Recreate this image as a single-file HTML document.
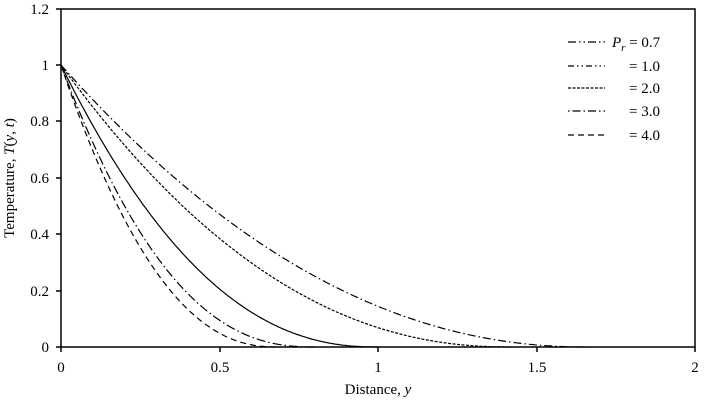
<!DOCTYPE html>
<html><head><meta charset="utf-8"><style>
body{margin:0;background:#fff}
svg{display:block;font-family:"Liberation Serif",serif;font-size:15px}
</style></head><body>
<svg id="s" width="708" height="402" viewBox="0 0 708 402">
<rect x="61" y="9" width="634" height="338" fill="none" stroke="#000" stroke-width="1.5"/>
<g stroke="#000" stroke-width="1.5">
<line x1="61" y1="347" x2="61" y2="352"/><line x1="220" y1="347" x2="220" y2="352"/><line x1="378" y1="347" x2="378" y2="352"/><line x1="537" y1="347" x2="537" y2="352"/><line x1="695" y1="347" x2="695" y2="352"/>
<line x1="56" y1="347" x2="61" y2="347"/><line x1="56" y1="291" x2="61" y2="291"/><line x1="56" y1="234" x2="61" y2="234"/><line x1="56" y1="178" x2="61" y2="178"/><line x1="56" y1="121" x2="61" y2="121"/><line x1="56" y1="65" x2="61" y2="65"/><line x1="56" y1="9" x2="61" y2="9"/>
</g>
<g text-anchor="end">
<text x="49" y="352">0</text><text x="49" y="296">0.2</text><text x="49" y="239">0.4</text><text x="49" y="183">0.6</text><text x="49" y="126">0.8</text><text x="49" y="70">1</text><text x="49" y="14">1.2</text>
</g>
<g text-anchor="middle">
<text x="61" y="372">0</text><text x="220" y="372">0.5</text><text x="378" y="372">1</text><text x="537" y="372">1.5</text><text x="695" y="372">2</text>
<text x="378" y="394">Distance, <tspan font-style="italic">y</tspan></text>
<text transform="translate(14,178) rotate(-90)">Temperature, <tspan font-style="italic">T</tspan>(<tspan font-style="italic">y</tspan>, <tspan font-style="italic">t</tspan>)</text>
</g>
<g id="c" fill="none" stroke="#000" stroke-width="1.2"></g>
<g stroke="#000" stroke-width="1.2">
<line x1="568" y1="42" x2="605" y2="42" stroke-dasharray="8,3,1.5,3,1.5,3"/>
<line x1="568" y1="66" x2="605" y2="66" stroke-dasharray="6,3,1.5,3,1.5,3"/>
<line x1="568" y1="88" x2="605" y2="88" stroke-dasharray="3,1.5"/>
<line x1="568" y1="111" x2="605" y2="111" stroke-dasharray="1.5,3,8,3"/>
<line x1="568" y1="135" x2="605" y2="135" stroke-dasharray="6,4"/>
</g>
<text x="612" y="47"><tspan font-style="italic">P</tspan><tspan font-style="italic" font-size="11" dy="4">r</tspan><tspan dy="-4"> = 0.7</tspan></text>
<text x="629" y="71">= 1.0</text><text x="629" y="93">= 2.0</text><text x="629" y="116">= 3.0</text><text x="629" y="140">= 4.0</text>
</svg>
<script>
var cs=[[1.66,2.1,"8,3,1.5,3"],[1.42,2.2,"3,1.5"],[1.0,2.28,""],[0.8,2.4,"9,3,1.5,3"],[0.68,2.27,"6,4"]];
var g=document.getElementById('c'),h='';
cs.forEach(function(c){var d='';for(var i=0;i<=200;i++){var y=c[0]*i/200,T=Math.pow(1-y/c[0],c[1]);d+=(i?'L':'M')+(61+y*317).toFixed(1)+','+(347-T*282).toFixed(1);}
h+='<path d="'+d+'"'+(c[2]?' stroke-dasharray="'+c[2]+'"':'')+'/>';});
g.innerHTML=h;
</script>
</body></html>
